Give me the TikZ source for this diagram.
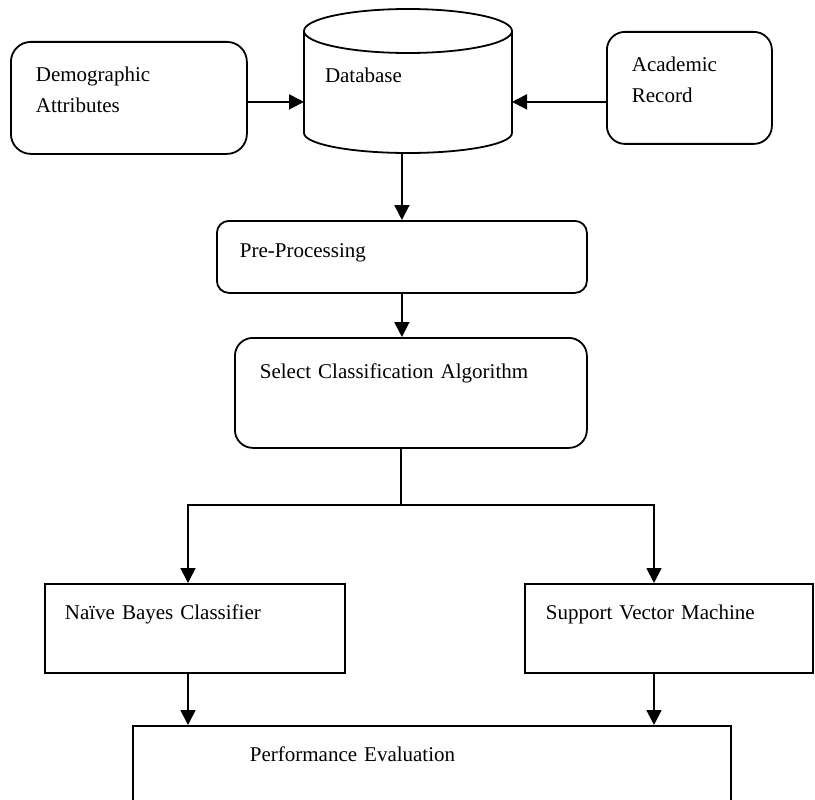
\documentclass[tikz,border=0pt]{standalone}
\usepackage{fontspec}
\setmainfont{Liberation Serif}
\usetikzlibrary{arrows.meta}
\tikzset{box/.style={draw,line width=1.8pt,anchor=north west,align=left,inner ysep=0pt,font=\fontsize{21}{31}\selectfont},
  rbox/.style={box,rounded corners=#1},rbox/.default=18pt,
  dbtext/.style={box,draw=none,outer sep=0pt},
  link/.style={line width=1.8pt},
  flow/.style={link,-{Triangle[length=15pt,width=15pt]}}}

\begin{document}
\begin{tikzpicture}[x=1pt,y=-1pt]
\useasboundingbox (0,0) rectangle (815,800);
\node[rbox=20pt,inner xsep=25pt,text width=186pt,text height=40pt,text depth=72pt] 
  (demo) at (10,41) {Demographic\\Attributes};
\node[dbtext,inner xsep=21pt,text width=166pt,text height=74pt,text depth=70pt] 
  (db) at (304,9) {Database};
\node[rbox,inner xsep=25pt,text width=115pt,text height=40pt,text depth=72pt] 
  (acad) at (606,31) {Academic\\Record};
\node[rbox=12pt,inner xsep=23pt,text width=324pt,text height=37pt,text depth=35pt] 
  (pre) at (216,220) {Pre-Processing};
\node[rbox,inner xsep=25pt,text width=302pt,text height=41pt,text depth=69pt] 
  (sel) at (234,337) {Select Classification Algorithm};
\node[box,inner xsep=20pt,text width=260pt,text height=36pt,text depth=53pt] 
  (nb) at (44,583) {Naïve Bayes Classifier};
\node[box,inner xsep=21pt,text width=246pt,text height=36pt,text depth=53pt] 
  (svm) at (524,583) {Support Vector Machine};
\node[box,inner xsep=117pt,text width=364pt,text height=36pt,text depth=70pt] 
  (perf) at (132,725) {Performance Evaluation};

% database drum
\draw[link] ([yshift=-22pt]db.north) ellipse [x radius=104pt,y radius=22pt];
\draw[link] ([yshift=-22pt]db.north west) -- ([yshift=20pt]db.south west)
  arc [start angle=180,end angle=360,x radius=104pt,y radius=20pt] -- ([yshift=-22pt]db.north east);

\coordinate (split) at (401,505);
\coordinate (lft) at (188,505);
\coordinate (rgt) at (654,505);

\draw[flow] ([yshift=-4pt]demo.east) -- ([yshift=-4pt]demo.east -| db.west);
\draw[flow] ([yshift=-4pt]demo.east -| acad.west) -- ([yshift=-4pt]demo.east -| db.east);
\draw[flow] (pre.north |- db.south) -- (pre.north);
\draw[flow] (pre.south) -- (pre.south |- sel.north);
\draw[link] (split |- sel.south) -- (split);
\draw[flow] (split) -- (lft) -- (lft |- nb.north);
\draw[flow] (split) -- (rgt) -- (rgt |- svm.north);
\draw[flow] (lft |- nb.south) -- (lft |- perf.north);
\draw[flow] (rgt |- svm.south) -- (rgt |- perf.north);
\end{tikzpicture}
\end{document}
